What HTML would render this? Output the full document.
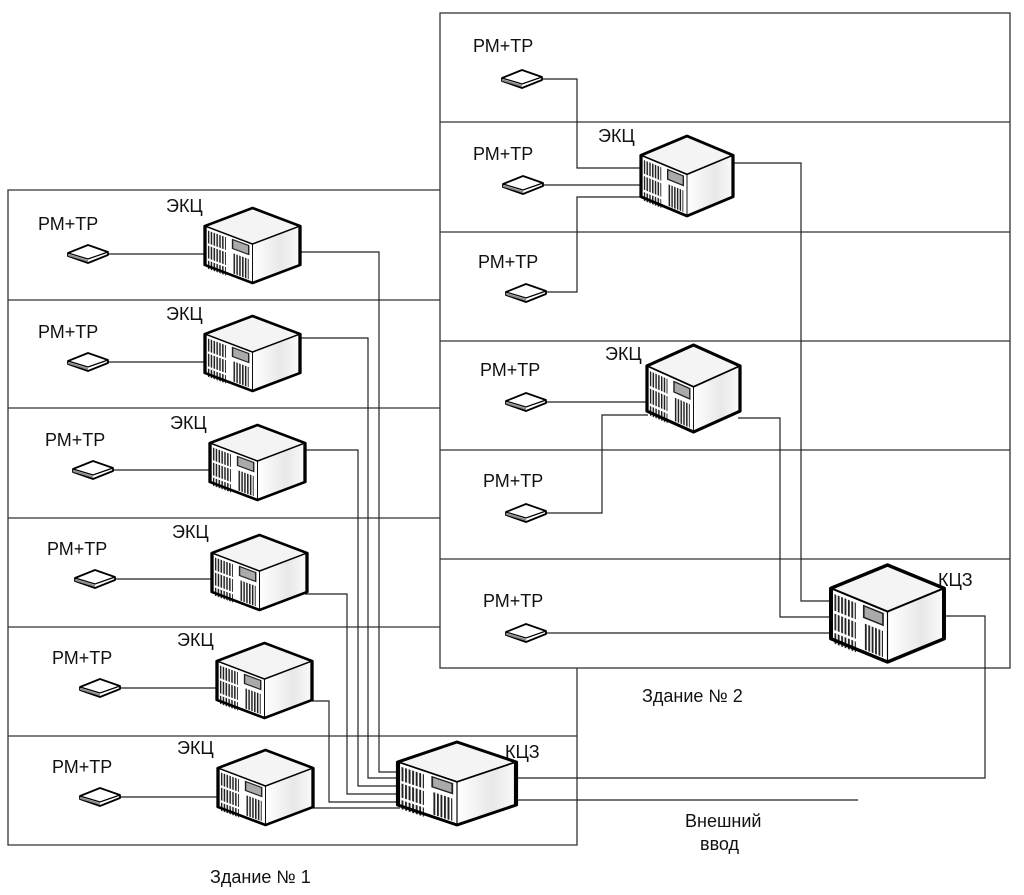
<!DOCTYPE html>
<html><head><meta charset="utf-8"><style>
body{margin:0;background:#fff}
svg{display:block}
text{font-family:"Liberation Sans",sans-serif;font-size:18px;fill:#111}
</style></head><body>
<svg width="1024" height="895" viewBox="0 0 1024 895">
<defs>
<linearGradient id="rg" x1="0" y1="0" x2="1" y2="0"><stop offset="0" stop-color="#fff"/><stop offset="0.6" stop-color="#e8e8e8"/><stop offset="1" stop-color="#fafafa"/></linearGradient>
<pattern id="vent" width="3" height="4" patternUnits="userSpaceOnUse"><rect width="3" height="4" fill="#fff"/><rect width="1.6" height="4" fill="#222"/></pattern>
<g id="srv">
<polygon points="0,24 50,48 50,100 0,76" fill="#fff"/>
<polygon points="50,48 100,24 100,76 50,100" fill="url(#rg)"/>
<polygon points="0,24 50,0 100,24 50,48" fill="#f4f4f4"/>
<polygon points="3,30 22,39 22,56 3,47" fill="url(#vent)"/>
<polygon points="3,50 22,59 22,76 3,67" fill="url(#vent)"/>
<polygon points="3,70 22,79 22,90 3,81" fill="url(#vent)"/>
<polygon points="29,42 46,50 46,62 29,54" fill="#aaa" stroke="#222" stroke-width="1.5"/>
<polygon points="29,60 46,68 46,95 29,87" fill="url(#vent)"/>
<polygon points="0,24 50,0 100,24 100,76 50,100 0,76 Z" fill="none" stroke="#000" stroke-width="3.5" stroke-linejoin="round"/>
<polyline points="0,24 50,48 100,24" fill="none" stroke="#000" stroke-width="2"/>
<line x1="50" y1="48" x2="50" y2="100" stroke="#000" stroke-width="1"/>
</g>
<g id="dev">
<polygon points="0,8 20,0 40,7 40,10 20,18 0,11" fill="#fff" stroke="#000" stroke-width="1.8" stroke-linejoin="round"/>
<polyline points="0,8 20,14 40,7" fill="none" stroke="#000" stroke-width="1.2"/>
<polygon points="0,9 20,15 20,17 0,11" fill="#888"/>
</g>
</defs>
<g fill="none" stroke="#333" stroke-width="1.3">
<rect x="440" y="13" width="570" height="655"/>
<line x1="440" y1="122" x2="1010" y2="122"/><line x1="440" y1="232" x2="1010" y2="232"/>
<line x1="440" y1="341" x2="1010" y2="341"/><line x1="440" y1="450" x2="1010" y2="450"/>
<line x1="440" y1="559" x2="1010" y2="559"/>
<polyline points="440,190 8,190 8,845 577,845 577,668"/>
<line x1="8" y1="300" x2="440" y2="300"/><line x1="8" y1="408" x2="440" y2="408"/>
<line x1="8" y1="518" x2="440" y2="518"/><line x1="8" y1="627" x2="440" y2="627"/>
<line x1="8" y1="736" x2="577" y2="736"/>
</g>
<g fill="none" stroke="#222" stroke-width="1.2">
<line x1="108" y1="254" x2="205" y2="254"/><line x1="108" y1="362" x2="205" y2="362"/>
<line x1="113" y1="470" x2="210" y2="470"/><line x1="115" y1="579" x2="212" y2="579"/>
<line x1="120" y1="688" x2="217" y2="688"/><line x1="120" y1="797" x2="218" y2="797"/>
<polyline points="300,252 379,252 379,772 400,772"/>
<polyline points="300,338 368,338 368,778 400,778"/>
<polyline points="305,450 358,450 358,786 400,786"/>
<polyline points="305,594 347,594 347,794 400,794"/>
<polyline points="312,701 329,701 329,802 400,802"/>
<line x1="312" y1="808" x2="400" y2="808"/>
<line x1="515" y1="800" x2="858" y2="800"/>
<polyline points="515,778 985,778 985,616 944,616"/>
<polyline points="540,79 577,79 577,168 643,168"/>
<line x1="542" y1="185" x2="643" y2="185"/>
<polyline points="545,292 577,292 577,197 643,197"/>
<polyline points="732,163 801,163 801,601 831,601"/>
<line x1="545" y1="402" x2="648" y2="402"/>
<polyline points="545,513 602,513 602,415 648,415"/>
<polyline points="738,418 780,418 780,617 831,617"/>
<line x1="545" y1="633" x2="831" y2="633"/>
</g>
<use href="#srv" transform="translate(205,208) scale(0.95,0.75)"/>
<use href="#srv" transform="translate(205,316) scale(0.95,0.75)"/>
<use href="#srv" transform="translate(210,425) scale(0.95,0.75)"/>
<use href="#srv" transform="translate(212,535) scale(0.95,0.75)"/>
<use href="#srv" transform="translate(217,643) scale(0.95,0.75)"/>
<use href="#srv" transform="translate(218,750) scale(0.95,0.75)"/>
<use href="#srv" transform="translate(641,136) scale(0.92,0.8)"/>
<use href="#srv" transform="translate(647,345) scale(0.93,0.87)"/>
<use href="#srv" transform="translate(398,742) scale(1.18,0.83)"/>
<use href="#srv" transform="translate(831,565) scale(1.13,0.97)"/>
<use href="#dev" transform="translate(68,245)"/>
<use href="#dev" transform="translate(68,353)"/>
<use href="#dev" transform="translate(73,461)"/>
<use href="#dev" transform="translate(75,570)"/>
<use href="#dev" transform="translate(80,679)"/>
<use href="#dev" transform="translate(80,788)"/>
<use href="#dev" transform="translate(502,70)"/>
<use href="#dev" transform="translate(503,176)"/>
<use href="#dev" transform="translate(506,284)"/>
<use href="#dev" transform="translate(506,393)"/>
<use href="#dev" transform="translate(506,504)"/>
<use href="#dev" transform="translate(506,624)"/>
<text x="38" y="230">РМ+ТР</text><text x="166" y="212">ЭКЦ</text>
<text x="38" y="338">РМ+ТР</text><text x="166" y="320">ЭКЦ</text>
<text x="45" y="446">РМ+ТР</text><text x="170" y="429">ЭКЦ</text>
<text x="47" y="555">РМ+ТР</text><text x="172" y="538">ЭКЦ</text>
<text x="52" y="664">РМ+ТР</text><text x="177" y="646">ЭКЦ</text>
<text x="52" y="773">РМ+ТР</text><text x="177" y="754">ЭКЦ</text>
<text x="473" y="52">РМ+ТР</text>
<text x="473" y="160">РМ+ТР</text><text x="598" y="142">ЭКЦ</text>
<text x="478" y="268">РМ+ТР</text>
<text x="480" y="376">РМ+ТР</text><text x="605" y="360">ЭКЦ</text>
<text x="483" y="487">РМ+ТР</text>
<text x="483" y="607">РМ+ТР</text>
<text x="938" y="586">КЦЗ</text>
<text x="505" y="758">КЦЗ</text>
<text x="642" y="702">Здание № 2</text>
<text x="210" y="883">Здание № 1</text>
<text x="685" y="827">Внешний</text>
<text x="700" y="850">ввод</text>
</svg>
</body></html>
